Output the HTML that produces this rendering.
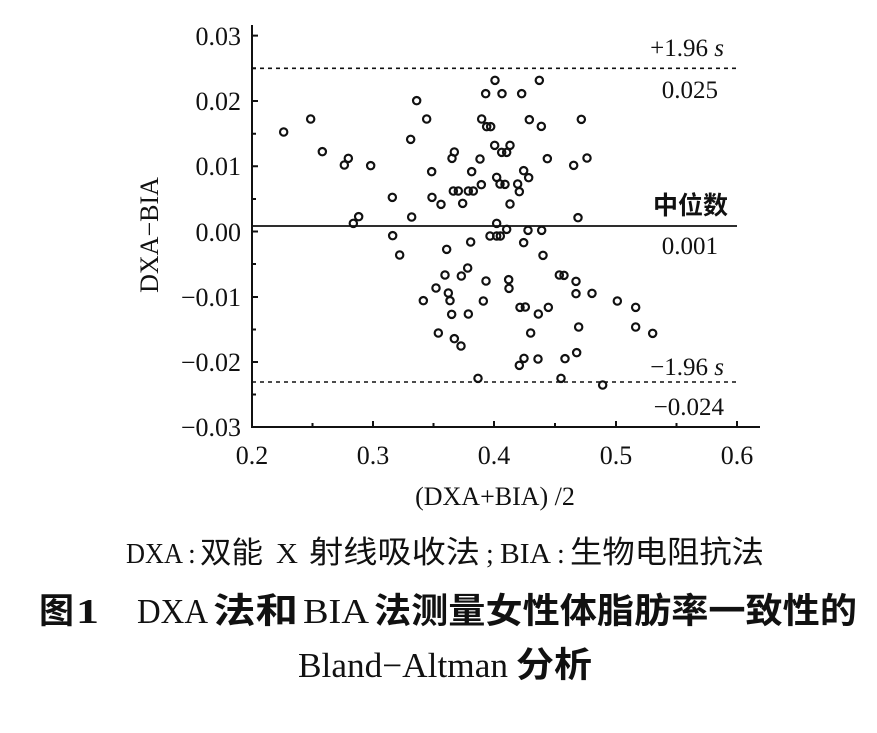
<!DOCTYPE html>
<html><head><meta charset="utf-8"><style>
body{margin:0;background:#fff;width:877px;height:728px;overflow:hidden}
svg text{font-family:"Liberation Serif","Noto Serif CJK SC",serif;fill:#111}
.c{font-family:"Noto Sans CJK SC",sans-serif}
</style></head><body>
<svg width="877" height="728" viewBox="0 0 877 728" xmlns="http://www.w3.org/2000/svg">
<g stroke="#111" fill="none">
<line x1="252" y1="25" x2="252" y2="428" stroke-width="2"/>
<line x1="251" y1="427" x2="760" y2="427" stroke-width="2"/>
<path d="M252 35.6h6M252 68.3h4M252 101h6M252 133.7h4M252 166.3h6M252 199h4M252 231.5h6M252 264h4M252 297h6M252 329.5h4M252 362h6M252 394.5h4M252 427h6" stroke-width="2"/>
<path d="M373 427v-6M494 427v-6M616 427v-6M737 427v-6M312.5 427v-4M433.5 427v-4M555 427v-4M676.5 427v-4" stroke-width="2"/>
<line x1="252" y1="68.3" x2="737" y2="68.3" stroke-width="1.6" stroke-dasharray="4,4"/>
<line x1="252" y1="226" x2="737" y2="226" stroke-width="1.8"/>
<line x1="252" y1="382" x2="737" y2="382" stroke-width="1.6" stroke-dasharray="4,4"/>
</g>
<g transform="translate(240,60) scale(0.33333)" fill="none" stroke="#111" stroke-width="6.5">
<circle cx="131" cy="216" r="11"/><circle cx="212" cy="177" r="11"/><circle cx="247" cy="275" r="11"/><circle cx="313" cy="315" r="11"/><circle cx="325" cy="295" r="11"/><circle cx="392" cy="317" r="11"/><circle cx="340" cy="490" r="11"/><circle cx="356" cy="470" r="11"/><circle cx="457" cy="412" r="11"/><circle cx="458" cy="527" r="11"/><circle cx="479" cy="585" r="11"/><circle cx="512" cy="238" r="11"/><circle cx="530" cy="122" r="11"/><circle cx="560" cy="177" r="11"/><circle cx="515" cy="471" r="11"/><circle cx="575" cy="335" r="11"/><circle cx="576" cy="412" r="11"/><circle cx="603" cy="433" r="11"/><circle cx="620" cy="568" r="11"/><circle cx="636" cy="295" r="11"/><circle cx="643" cy="276" r="11"/><circle cx="640" cy="393" r="11"/><circle cx="655" cy="393" r="11"/><circle cx="668" cy="430" r="11"/><circle cx="685" cy="393" r="11"/><circle cx="700" cy="393" r="11"/><circle cx="695" cy="335" r="11"/><circle cx="692" cy="546" r="11"/><circle cx="720" cy="297" r="11"/><circle cx="724" cy="374" r="11"/><circle cx="725" cy="177" r="11"/><circle cx="737" cy="101" r="11"/><circle cx="740" cy="200" r="11"/><circle cx="752" cy="200" r="11"/><circle cx="765" cy="61" r="11"/><circle cx="786" cy="101" r="11"/><circle cx="764" cy="256" r="11"/><circle cx="770" cy="352" r="11"/><circle cx="780" cy="372" r="11"/><circle cx="795" cy="373" r="11"/><circle cx="785" cy="277" r="11"/><circle cx="800" cy="277" r="11"/><circle cx="810" cy="256" r="11"/><circle cx="810" cy="432" r="11"/><circle cx="770" cy="490" r="11"/><circle cx="800" cy="508" r="11"/><circle cx="750" cy="528" r="11"/><circle cx="770" cy="528" r="11"/><circle cx="781" cy="528" r="11"/><circle cx="833" cy="372" r="11"/><circle cx="838" cy="395" r="11"/><circle cx="851" cy="332" r="11"/><circle cx="866" cy="353" r="11"/><circle cx="845" cy="101" r="11"/><circle cx="868" cy="179" r="11"/><circle cx="898" cy="61" r="11"/><circle cx="904" cy="199" r="11"/><circle cx="922" cy="296" r="11"/><circle cx="851" cy="548" r="11"/><circle cx="864" cy="511" r="11"/><circle cx="905" cy="511" r="11"/><circle cx="909" cy="586" r="11"/><circle cx="1001" cy="316" r="11"/><circle cx="1041" cy="294" r="11"/><circle cx="1024" cy="178" r="11"/><circle cx="1014" cy="473" r="11"/>
<circle cx="615" cy="645" r="11"/><circle cx="588" cy="684" r="11"/><circle cx="625" cy="699" r="11"/><circle cx="630" cy="722" r="11"/><circle cx="550" cy="722" r="11"/><circle cx="635" cy="763" r="11"/><circle cx="664" cy="648" r="11"/><circle cx="683" cy="624" r="11"/><circle cx="685" cy="762" r="11"/><circle cx="738" cy="663" r="11"/><circle cx="730" cy="723" r="11"/><circle cx="806" cy="659" r="11"/><circle cx="807" cy="685" r="11"/><circle cx="840" cy="742" r="11"/><circle cx="856" cy="741" r="11"/><circle cx="895" cy="762" r="11"/><circle cx="925" cy="742" r="11"/><circle cx="872" cy="819" r="11"/><circle cx="595" cy="819" r="11"/><circle cx="643" cy="836" r="11"/><circle cx="663" cy="858" r="11"/><circle cx="958" cy="645" r="11"/><circle cx="972" cy="646" r="11"/><circle cx="1008" cy="664" r="11"/><circle cx="1008" cy="701" r="11"/><circle cx="1056" cy="700" r="11"/><circle cx="1132" cy="723" r="11"/><circle cx="1187" cy="742" r="11"/><circle cx="1187" cy="801" r="11"/><circle cx="1238" cy="820" r="11"/><circle cx="1016" cy="801" r="11"/><circle cx="852" cy="895" r="11"/><circle cx="838" cy="916" r="11"/><circle cx="894" cy="897" r="11"/><circle cx="975" cy="896" r="11"/><circle cx="1010" cy="878" r="11"/><circle cx="963" cy="955" r="11"/><circle cx="714" cy="955" r="11"/><circle cx="1088" cy="975" r="11"/>
</g>
<g font-size="26" text-anchor="end">
<text x="241" y="45">0.03</text><text x="241" y="110">0.02</text><text x="241" y="175">0.01</text><text x="241" y="241">0.00</text>
<text x="241" y="306">−0.01</text><text x="241" y="371">−0.02</text><text x="241" y="436">−0.03</text>
</g>
<g font-size="26" text-anchor="middle">
<text x="252" y="464">0.2</text><text x="373" y="464">0.3</text><text x="494" y="464">0.4</text><text x="616" y="464">0.5</text><text x="737" y="464">0.6</text>
<text x="495" y="505">(DXA+BIA) /2</text>
</g>
<text transform="translate(158,235) rotate(-90)" font-size="26" text-anchor="middle">DXA−BIA</text>
<g font-size="25" text-anchor="end">
<text x="724" y="56">+1.96 <tspan font-style="italic">s</tspan></text>
<text x="718" y="98">0.025</text>
<text x="728" y="214" class="c" font-weight="bold">中位数</text>
<text x="718" y="254">0.001</text>
<text x="724" y="375">−1.96 <tspan font-style="italic">s</tspan></text>
<text x="724" y="415">−0.024</text>
</g>
<!-- caption line 1 -->
<g font-size="28">
<text x="126" y="563" textLength="57" lengthAdjust="spacingAndGlyphs">DXA</text>
<text x="188" y="563">:</text>
<text x="200" y="563" class="c" font-size="30" textLength="63" lengthAdjust="spacingAndGlyphs">双能</text>
<text x="276" y="563" textLength="22" lengthAdjust="spacingAndGlyphs">X</text>
<text x="309" y="563" class="c" font-size="31" textLength="171" lengthAdjust="spacingAndGlyphs">射线吸收法</text>
<text x="486" y="563">;</text>
<text x="500" y="563" textLength="51" lengthAdjust="spacingAndGlyphs">BIA</text>
<text x="557" y="563">:</text>
<text x="570" y="563" class="c" font-size="31" textLength="194" lengthAdjust="spacingAndGlyphs">生物电阻抗法</text>
</g>
<!-- caption line 2 -->
<g font-size="35">
<text x="39" y="623" class="c" font-weight="bold">图</text>
<text x="76" y="623" font-weight="bold" textLength="23" lengthAdjust="spacingAndGlyphs">1</text>
<text x="137" y="623" textLength="71" lengthAdjust="spacingAndGlyphs">DXA</text>
<text x="213" y="623" class="c" font-weight="bold" textLength="85" lengthAdjust="spacingAndGlyphs">法和</text>
<text x="303" y="623" textLength="66" lengthAdjust="spacingAndGlyphs">BIA</text>
<text x="374" y="623" class="c" font-weight="bold" textLength="483" lengthAdjust="spacingAndGlyphs">法测量女性体脂肪率一致性的</text>
</g>
<!-- caption line 3 -->
<g font-size="35">
<text x="298" y="677" textLength="210" lengthAdjust="spacingAndGlyphs">Bland−Altman</text>
<text x="516" y="677" class="c" font-weight="bold" textLength="76" lengthAdjust="spacingAndGlyphs">分析</text>
</g>
</svg>
</body></html>
